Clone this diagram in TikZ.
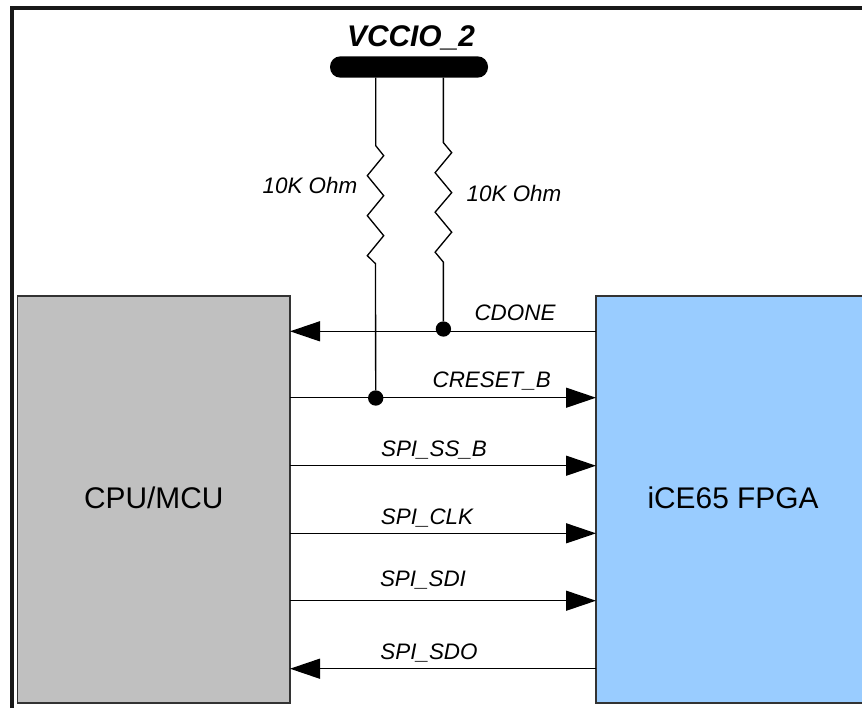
\documentclass[tikz,border=0pt]{standalone}
\usepackage{fontspec}
\setmainfont{Liberation Sans}
\usetikzlibrary{arrows.meta}
\definecolor{cpugray}{HTML}{C0C0C0}
\definecolor{fpgablue}{HTML}{99CCFF}
\tikzset{
	chip/.style={draw=black!80, line width=1.1pt, outer sep=0pt, minimum height=305.25pt, text depth=2.4pt, font=\fontsize{22.4}{26}\selectfont},
	sig/.style={line width=1pt, -{Triangle[length=22.5pt, width=15pt]}},
	wire/.style={line width=1pt},
	lbl/.style={inner sep=0pt, anchor=base, font=\fontsize{16.8}{20}\selectfont\itshape},
	dotnode/.style={circle, fill=black, inner sep=0pt, minimum size=11.5pt}
}
\begin{document}
\begin{tikzpicture}[x=0.75pt, y=-0.75pt]
	\useasboundingbox (0,0) rectangle (862,708);
	\draw[line width=2.4pt, line cap=butt, black!90] (12,708) -- (12,8) -- (862,8);
	\node[chip, fill=cpugray, minimum width=204.4pt] (cpu) at (153.75,499.5) {CPU/MCU};
	\node[chip, fill=fpgablue, minimum width=205.5pt] (fpga) at (733,499.5) {iCE65 FPGA};
	\node[fill=black, rounded corners=7.8pt, inner sep=0pt, outer sep=0pt, minimum width=118.5pt, minimum height=16pt] (rail) at (409,67) {};
	\node[font=\fontsize{22.4}{26}\selectfont\bfseries\itshape, inner sep=0pt, anchor=base] (vccio) at (411,46.7) {VCCIO\_2};
	\node[dotnode] (dota) at (443.4,329) {};
	\node[dotnode] (dotb) at (375.7,398) {};
	\coordinate (cdoneR) at (fpga.west |- 0,331.3);
	\coordinate (cdoneL) at (cpu.east |- 0,331.3);
	\coordinate (cresetL) at (cpu.east |- 0,397.7);
	\coordinate (cresetR) at (fpga.west |- 0,397.7);
	\coordinate (ssL) at (cpu.east |- 0,465.7);
	\coordinate (ssR) at (fpga.west |- 0,465.7);
	\coordinate (clkL) at (cpu.east |- 0,533.3);
	\coordinate (clkR) at (fpga.west |- 0,533.3);
	\coordinate (sdiL) at (cpu.east |- 0,600.7);
	\coordinate (sdiR) at (fpga.west |- 0,600.7);
	\coordinate (sdoL) at (cpu.east |- 0,668.7);
	\coordinate (sdoR) at (fpga.west |- 0,668.7);
	% resistors
	\draw[wire] (rail.south -| dotb) -- ++(0,68) -- ++(8,10) -- ++(-16.4,20) -- ++(16.4,20) -- ++(-16.4,20) -- ++(16.4,20) -- ++(-16.4,20) -- ++(8.2,8) -- (dotb);
	\draw[wire] (rail.south -| dota) -- ++(0,65) -- ++(8.3,10) -- ++(-16.6,20) -- ++(16.6,20) -- ++(-16.6,19.5) -- ++(16.6,20) -- ++(-16.6,20) -- ++(8.3,10) -- (dota);
	\node[lbl] (ohma) at (310,193) {10K Ohm};
	\node[lbl] (ohmb) at (514,201) {10K Ohm};
	% signals
	\draw[sig] (cdoneR) -- (cdoneL);
	\draw[sig] (cresetL) -- (cresetR);
	\draw[sig] (ssL) -- (ssR);
	\draw[sig] (clkL) -- (clkR);
	\draw[sig] (sdiL) -- (sdiR);
	\draw[sig] (sdoR) -- (sdoL);
	\node[lbl] (cdone) at (515,320) {CDONE};
	\node[lbl] (creset) at (491.7,387.7) {CRESET\_B};
	\node[lbl] (ss) at (434,456) {SPI\_SS\_B};
	\node[lbl] (clk) at (427,524.3) {SPI\_CLK};
	\node[lbl] (sdi) at (423,586.7) {SPI\_SDI};
	\node[lbl] (sdo) at (429,659) {SPI\_SDO};
\end{tikzpicture}
\end{document}
